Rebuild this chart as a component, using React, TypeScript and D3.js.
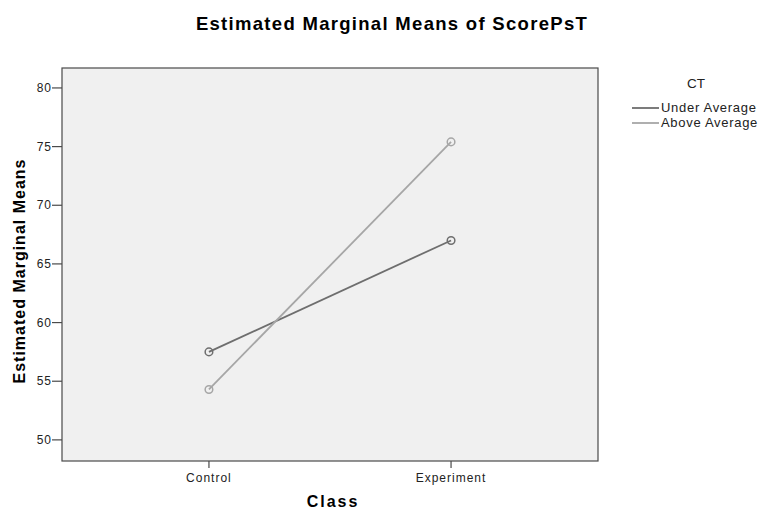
import React from 'react';
import * as d3 from 'd3';

const categories = ['Control', 'Experiment'];
const seriesNames = ['Under Average', 'Above Average'];
const underAverage = [57.5, 67.0];
const aboveAverage = [54.3, 75.4];
const yTicks = [50, 55, 60, 65, 70, 75, 80];

const colors = ['#6e6e6e', '#a6a6a6'];

export default function App() {
  const width = 763;
  const height = 509;
  const plot = { left: 62, top: 68, right: 598, bottom: 461 };

  // point scale: Control ~210, Experiment ~452
  const x = d3
    .scalePoint<string>()
    .domain(categories)
    .range([plot.left, plot.right])
    .padding(0.607);

  const y = d3.scaleLinear().domain([48.2, 81.7]).range([plot.bottom, plot.top]);

  const line = d3
    .line<number>()
    .x((_, i) => x(categories[i]) as number)
    .y((d) => y(d));

  const series = [underAverage, aboveAverage];
  const font = '"Liberation Sans", Arial, sans-serif';

  return (
    <svg
      width={width}
      height={height}
      style={{ position: 'absolute', left: 0, top: 0, background: '#fff' }}
      fontFamily={font}
    >
      <text x={392} y={30} textAnchor="middle" fontSize={18.5} fontWeight="bold" letterSpacing={1.3} fill="#000">
        Estimated Marginal Means of ScorePsT
      </text>

      <rect
        x={plot.left}
        y={plot.top}
        width={plot.right - plot.left}
        height={plot.bottom - plot.top}
        fill="#f0f0f0"
        stroke="#4a4a4a"
        strokeWidth={1.2}
      />

      {yTicks.map((t) => (
        <g key={t}>
          <line x1={plot.left - 10} x2={plot.left} y1={y(t)} y2={y(t)} stroke="#4a4a4a" strokeWidth={1.2} />
          <text x={plot.left - 10} y={y(t) + 4} textAnchor="end" fontSize={12} letterSpacing={1} fill="#222">
            {t}
          </text>
        </g>
      ))}

      {categories.map((c) => (
        <g key={c}>
          <line x1={x(c)} x2={x(c)} y1={plot.bottom} y2={plot.bottom + 7} stroke="#4a4a4a" strokeWidth={1.2} />
          <text x={x(c)} y={plot.bottom + 21} textAnchor="middle" fontSize={12} letterSpacing={1} fill="#222">
            {c}
          </text>
        </g>
      ))}

      <text x={333} y={507} textAnchor="middle" fontSize={16} fontWeight="bold" letterSpacing={2} fill="#000">
        Class
      </text>
      <text
        transform={`translate(25, 271) rotate(-90)`}
        textAnchor="middle"
        fontSize={16}
        fontWeight="bold"
        letterSpacing={1}
        fill="#000"
      >
        Estimated Marginal Means
      </text>

      {series.map((s, i) => (
        <g key={seriesNames[i]}>
          <path d={line(s) ?? ''} fill="none" stroke={colors[i]} strokeWidth={1.8} />
          {s.map((v, j) => (
            <circle
              key={j}
              cx={x(categories[j])}
              cy={y(v)}
              r={3.8}
              fill="none"
              stroke={colors[i]}
              strokeWidth={1.5}
            />
          ))}
        </g>
      ))}

      <text x={696} y={88} textAnchor="middle" fontSize={13.5} fill="#222">
        CT
      </text>
      {seriesNames.map((n, i) => (
        <g key={n}>
          <line x1={632} x2={659} y1={108 + i * 15} y2={108 + i * 15} stroke={colors[i]} strokeWidth={1.8} />
          <text x={661} y={112 + i * 15} fontSize={13} letterSpacing={0.7} fill="#222">
            {n}
          </text>
        </g>
      ))}
    </svg>
  );
}
